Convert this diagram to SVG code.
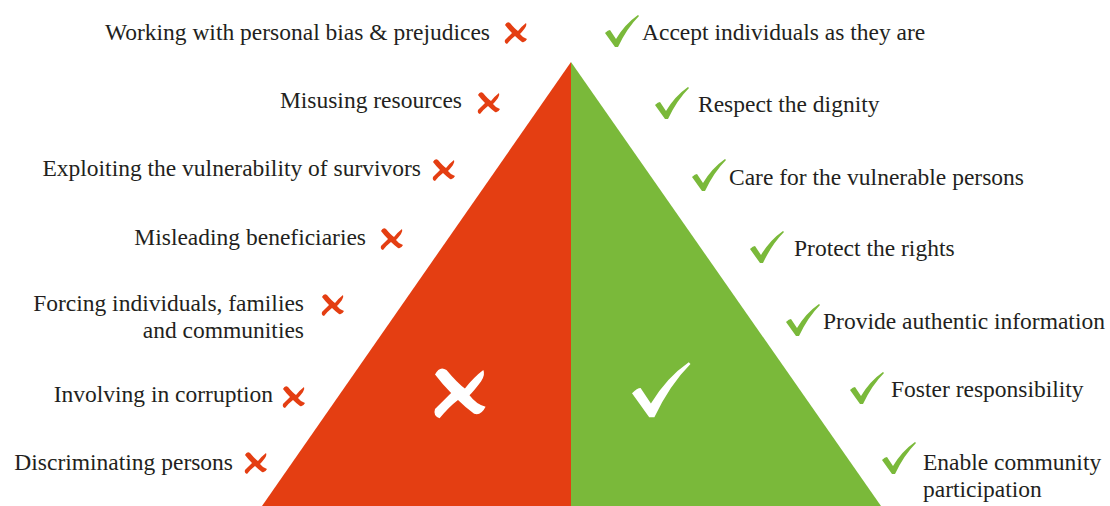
<svg xmlns="http://www.w3.org/2000/svg" width="1110" height="506" viewBox="0 0 1110 506">
<defs>
<style>
text{font-family:"Liberation Serif","Times New Roman",serif;font-size:23.5px;fill:#231f20}
.l{text-anchor:end}
.xr{fill:#e43e12}
.cg{fill:#7ab93a}
.w{fill:#fff}
</style>
<path id="xm" d="M-10,-8 Q-8,-12 -5,-10 Q0,-4 3,-2 Q7,-7 11,-10 Q12,-8 10,-5 Q7,-1 5,1 Q8,5 12,6 Q10,10 7,9 Q3,6 0,3 Q-4,6 -8,11 Q-11,10 -10,7 Q-6,3 -3,0 Q-7,-4 -10,-8 Z"/>
<path id="ck" d="M0,17 Q3,14 5,14 L11,23 Q20,8 33,-1 L34,0 Q22,12 13,31 L10,31 Z"/>
</defs>
<g id="triangle">
<polygon points="571,62 262,506 571,506" fill="#e43e12"/>
<polygon points="571,62 571,506 881,506" fill="#7ab93a"/>
<use href="#xm" class="w" transform="translate(458,393) scale(2.3)"/>
<use href="#ck" class="w" transform="translate(632,364) scale(1.72)"/>
</g>
<g id="left-items">
<g id="l1"><text class="l" x="490" y="40">Working with personal bias &amp; prejudices</text><use href="#xm" class="xr" x="515" y="33"/></g>
<g id="l2"><text class="l" x="462" y="108">Misusing resources</text><use href="#xm" class="xr" x="488" y="103"/></g>
<g id="l3"><text class="l" x="421" y="176">Exploiting the vulnerability of survivors</text><use href="#xm" class="xr" x="443" y="170"/></g>
<g id="l4"><text class="l" x="366" y="245">Misleading beneficiaries</text><use href="#xm" class="xr" x="391" y="239"/></g>
<g id="l5"><text class="l" x="304" y="311">Forcing individuals, families</text><text class="l" x="304" y="338">and communities</text><use href="#xm" class="xr" x="332" y="305"/></g>
<g id="l6"><text class="l" x="273" y="402">Involving in corruption</text><use href="#xm" class="xr" x="293" y="397"/></g>
<g id="l7"><text class="l" x="233" y="470">Discriminating persons</text><use href="#xm" class="xr" x="255" y="463"/></g>
</g>
<g id="right-items">
<g id="r1"><use href="#ck" class="cg" x="605" y="16"/><text x="642" y="40">Accept individuals as they are</text></g>
<g id="r2"><use href="#ck" class="cg" x="655" y="88"/><text x="698" y="112">Respect the dignity</text></g>
<g id="r3"><use href="#ck" class="cg" x="692" y="160"/><text x="729" y="185">Care for the vulnerable persons</text></g>
<g id="r4"><use href="#ck" class="cg" x="750" y="232"/><text x="794" y="256">Protect the rights</text></g>
<g id="r5"><use href="#ck" class="cg" x="786" y="305"/><text x="823" y="329">Provide authentic information</text></g>
<g id="r6"><use href="#ck" class="cg" x="850" y="373"/><text x="891" y="397">Foster responsibility</text></g>
<g id="r7"><use href="#ck" class="cg" x="882" y="443"/><text x="923" y="470">Enable community</text><text x="923" y="497">participation</text></g>
</g>
</svg>
